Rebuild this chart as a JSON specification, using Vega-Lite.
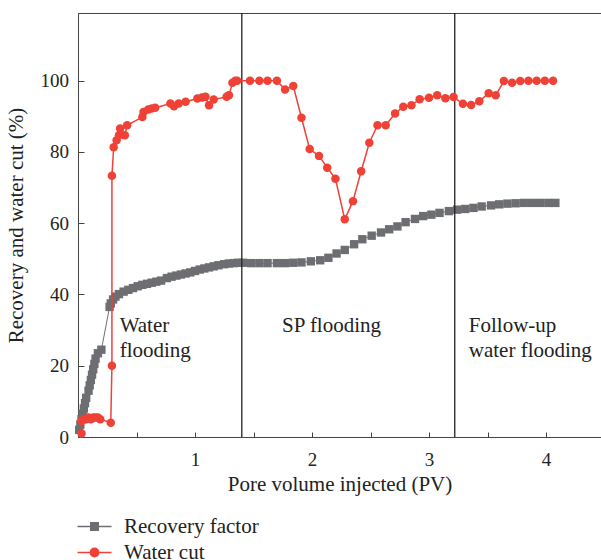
{
  "$schema": "https://vega.github.io/schema/vega-lite/v6.json",
  "width": 523,
  "height": 424,
  "autosize": {"type": "none"},
  "padding": {"left": 78, "top": 13, "right": 0, "bottom": 123},
  "background": "white",
  "config": {
    "font": "Liberation Serif",
    "view": {"stroke": "#444", "strokeWidth": 1},
    "axis": {
      "domainColor": "#444", "tickColor": "#444", "labelColor": "#222", "titleColor": "#222",
      "labelFont": "Liberation Serif", "titleFont": "Liberation Serif",
      "labelFontSize": 19, "titleFontSize": 21, "titleFontWeight": "normal",
      "grid": false, "domainWidth": 1, "tickWidth": 1
    },
    "legend": {"labelFont": "Liberation Serif", "labelFontSize": 21, "labelColor": "#222"}
  },
  "datasets": {
    "rf": [
      {"x": 0.01, "y": 2}, {"x": 0.02, "y": 3.5}, {"x": 0.03, "y": 5}, {"x": 0.04, "y": 6.5},
      {"x": 0.05, "y": 8}, {"x": 0.06, "y": 9.5}, {"x": 0.07, "y": 11}, {"x": 0.09, "y": 13},
      {"x": 0.10, "y": 14.5}, {"x": 0.11, "y": 16}, {"x": 0.12, "y": 17.5}, {"x": 0.13, "y": 19},
      {"x": 0.14, "y": 20.5}, {"x": 0.15, "y": 22}, {"x": 0.17, "y": 23.5}, {"x": 0.20, "y": 24.5},
      {"x": 0.27, "y": 36.5}, {"x": 0.28, "y": 37.5}, {"x": 0.30, "y": 38.6}, {"x": 0.32, "y": 39.4},
      {"x": 0.35, "y": 40.1}, {"x": 0.39, "y": 40.8}, {"x": 0.43, "y": 41.3}, {"x": 0.47, "y": 41.8},
      {"x": 0.51, "y": 42.3}, {"x": 0.55, "y": 42.7}, {"x": 0.59, "y": 43.0}, {"x": 0.63, "y": 43.3},
      {"x": 0.67, "y": 43.6}, {"x": 0.71, "y": 43.9}, {"x": 0.76, "y": 44.6}, {"x": 0.80, "y": 45.0},
      {"x": 0.84, "y": 45.3}, {"x": 0.88, "y": 45.6}, {"x": 0.92, "y": 45.9}, {"x": 0.96, "y": 46.2},
      {"x": 1.00, "y": 46.6}, {"x": 1.04, "y": 47.0}, {"x": 1.08, "y": 47.3}, {"x": 1.12, "y": 47.6},
      {"x": 1.16, "y": 47.9}, {"x": 1.20, "y": 48.2}, {"x": 1.25, "y": 48.5}, {"x": 1.29, "y": 48.7},
      {"x": 1.33, "y": 48.8}, {"x": 1.37, "y": 48.9}, {"x": 1.41, "y": 48.9}, {"x": 1.48, "y": 48.8},
      {"x": 1.55, "y": 48.8}, {"x": 1.62, "y": 48.8}, {"x": 1.70, "y": 48.8}, {"x": 1.77, "y": 48.8},
      {"x": 1.84, "y": 48.9}, {"x": 1.91, "y": 49.0}, {"x": 1.99, "y": 49.3}, {"x": 2.07, "y": 49.6},
      {"x": 2.14, "y": 50.3}, {"x": 2.21, "y": 51.5}, {"x": 2.28, "y": 52.5}, {"x": 2.36, "y": 54.1},
      {"x": 2.43, "y": 55.5}, {"x": 2.51, "y": 56.5}, {"x": 2.59, "y": 57.4}, {"x": 2.66, "y": 58.3},
      {"x": 2.73, "y": 59.1}, {"x": 2.80, "y": 60.3}, {"x": 2.88, "y": 61.2}, {"x": 2.95, "y": 62.0},
      {"x": 3.02, "y": 62.4}, {"x": 3.09, "y": 62.9}, {"x": 3.17, "y": 63.4}, {"x": 3.24, "y": 63.8},
      {"x": 3.31, "y": 64.0}, {"x": 3.38, "y": 64.3}, {"x": 3.45, "y": 64.7}, {"x": 3.53, "y": 65.0},
      {"x": 3.60, "y": 65.3}, {"x": 3.67, "y": 65.5}, {"x": 3.74, "y": 65.6}, {"x": 3.81, "y": 65.7},
      {"x": 3.88, "y": 65.7}, {"x": 3.95, "y": 65.7}, {"x": 4.02, "y": 65.7}, {"x": 4.08, "y": 65.7}
    ],
    "wc": [
      {"i": 1, "x": 0.03, "y": 1}, {"i": 2, "x": 0.03, "y": 4.5}, {"i": 3, "x": 0.05, "y": 5},
      {"i": 4, "x": 0.07, "y": 5}, {"i": 5, "x": 0.09, "y": 5.5}, {"i": 6, "x": 0.11, "y": 5},
      {"i": 7, "x": 0.13, "y": 5.5}, {"i": 8, "x": 0.15, "y": 5.5}, {"i": 9, "x": 0.17, "y": 5.5},
      {"i": 10, "x": 0.19, "y": 5}, {"i": 11, "x": 0.28, "y": 4}, {"i": 12, "x": 0.29, "y": 20},
      {"i": 13, "x": 0.29, "y": 73.3}, {"i": 14, "x": 0.305, "y": 81.3}, {"i": 15, "x": 0.33, "y": 83.3},
      {"i": 16, "x": 0.35, "y": 84.7}, {"i": 17, "x": 0.36, "y": 86.6}, {"i": 18, "x": 0.40, "y": 84.7},
      {"i": 19, "x": 0.42, "y": 87.5}, {"i": 20, "x": 0.55, "y": 89.8}, {"i": 21, "x": 0.56, "y": 91.2},
      {"i": 22, "x": 0.60, "y": 91.9}, {"i": 23, "x": 0.63, "y": 92.2}, {"i": 24, "x": 0.66, "y": 92.4},
      {"i": 25, "x": 0.79, "y": 93.6}, {"i": 26, "x": 0.82, "y": 92.8}, {"i": 27, "x": 0.86, "y": 93.6},
      {"i": 28, "x": 0.92, "y": 94.1}, {"i": 29, "x": 1.02, "y": 95.0}, {"i": 30, "x": 1.06, "y": 95.3},
      {"i": 31, "x": 1.09, "y": 95.5}, {"i": 32, "x": 1.12, "y": 93.1}, {"i": 33, "x": 1.16, "y": 94.7},
      {"i": 34, "x": 1.27, "y": 95.5}, {"i": 35, "x": 1.29, "y": 95.9}, {"i": 36, "x": 1.32, "y": 99.4},
      {"i": 37, "x": 1.345, "y": 100}, {"i": 38, "x": 1.36, "y": 100}, {"i": 39, "x": 1.47, "y": 100},
      {"i": 40, "x": 1.55, "y": 100}, {"i": 41, "x": 1.62, "y": 100}, {"i": 42, "x": 1.70, "y": 100},
      {"i": 43, "x": 1.77, "y": 97.5}, {"i": 44, "x": 1.84, "y": 98.5}, {"i": 45, "x": 1.91, "y": 89.6},
      {"i": 46, "x": 1.98, "y": 80.8}, {"i": 47, "x": 2.06, "y": 78.9}, {"i": 48, "x": 2.13, "y": 75.6},
      {"i": 49, "x": 2.20, "y": 72.5}, {"i": 50, "x": 2.28, "y": 61.1}, {"i": 51, "x": 2.35, "y": 66.2},
      {"i": 52, "x": 2.42, "y": 74.6}, {"i": 53, "x": 2.49, "y": 82.6}, {"i": 54, "x": 2.56, "y": 87.5},
      {"i": 55, "x": 2.63, "y": 87.5}, {"i": 56, "x": 2.71, "y": 90.8}, {"i": 57, "x": 2.78, "y": 92.7},
      {"i": 58, "x": 2.85, "y": 93.1}, {"i": 59, "x": 2.92, "y": 94.8}, {"i": 60, "x": 3.00, "y": 95.2},
      {"i": 61, "x": 3.07, "y": 95.9}, {"i": 62, "x": 3.14, "y": 95.1}, {"i": 63, "x": 3.21, "y": 95.4},
      {"i": 64, "x": 3.29, "y": 93.5}, {"i": 65, "x": 3.36, "y": 93.2}, {"i": 66, "x": 3.43, "y": 94.2},
      {"i": 67, "x": 3.51, "y": 96.5}, {"i": 68, "x": 3.57, "y": 95.9}, {"i": 69, "x": 3.64, "y": 99.9},
      {"i": 70, "x": 3.71, "y": 99.4}, {"i": 71, "x": 3.78, "y": 99.9}, {"i": 72, "x": 3.85, "y": 100},
      {"i": 73, "x": 3.92, "y": 100}, {"i": 74, "x": 3.99, "y": 100}, {"i": 75, "x": 4.06, "y": 100}
    ],
    "stages": [{"x": 1.4}, {"x": 3.22}],
    "ann": [
      {"x": 0.356, "y": 29.4, "t": "Water\nflooding"},
      {"x": 1.744, "y": 29.4, "t": "SP flooding"},
      {"x": 3.34, "y": 29.4, "t": "Follow-up\nwater flooding"}
    ],
    "leg": [{"series": "Recovery factor"}, {"series": "Water cut"}]
  },
  "layer": [
    {
      "data": {"name": "rf"},
      "mark": {"type": "line", "color": "#6d6e71", "strokeWidth": 1,
        "point": {"shape": "square", "size": 70, "filled": true, "color": "#6d6e71", "opacity": 1}},
      "encoding": {
        "x": {
          "field": "x", "type": "quantitative", "title": "Pore volume injected (PV)",
          "scale": {"domain": [0, 4.47], "nice": false, "zero": false},
          "axis": {
            "values": [0.5, 1, 1.5, 2, 2.5, 3, 3.5, 4],
            "labelExpr": "datum.value % 1 ? '' : format(datum.value, 'd')",
            "tickSize": -5,
            "labelPadding": 18,
            "titlePadding": 4
          }
        },
        "y": {
          "field": "y", "type": "quantitative", "title": "Recovery and water cut (%)",
          "scale": {"domain": [0, 119], "nice": false, "zero": false},
          "axis": {
            "values": [0, 10, 20, 30, 40, 50, 60, 70, 80, 90, 100, 110],
            "labelExpr": "datum.value % 20 ? '' : datum.label",
            "tickSize": -6,
            "labelPadding": 15.5,
            "titlePadding": 14
          }
        }
      }
    },
    {
      "data": {"name": "stages"},
      "mark": {"type": "rule", "color": "#222", "strokeWidth": 1.3},
      "encoding": {
        "x": {"field": "x", "type": "quantitative", "title": "Pore volume injected (PV)"}
      }
    },
    {
      "data": {"name": "wc"},
      "mark": {"type": "line", "color": "#ef4136", "strokeWidth": 1.5,
        "point": {"shape": "circle", "size": 72, "filled": true, "color": "#ef4136", "opacity": 1}},
      "encoding": {
        "x": {"field": "x", "type": "quantitative", "title": "Pore volume injected (PV)"},
        "y": {"field": "y", "type": "quantitative", "title": "Recovery and water cut (%)"},
        "order": {"field": "i", "type": "quantitative"}
      }
    },
    {
      "data": {"name": "ann"},
      "mark": {"type": "text", "align": "left", "baseline": "alphabetic", "fontSize": 21,
        "lineBreak": "\n", "lineHeight": 25, "font": "Liberation Serif", "color": "#222"},
      "encoding": {
        "x": {"field": "x", "type": "quantitative", "title": "Pore volume injected (PV)"},
        "y": {"field": "y", "type": "quantitative", "title": "Recovery and water cut (%)"},
        "text": {"field": "t"}
      }
    },
    {
      "data": {"name": "leg"},
      "transform": [{"filter": "false"}],
      "mark": {"type": "point", "filled": true},
      "encoding": {
        "fill": {"field": "series", "type": "nominal",
          "scale": {"domain": ["Recovery factor", "Water cut"], "range": ["#6d6e71", "#ef4136"]},
          "legend": {"title": null, "orient": "none", "legendX": 6, "legendY": 503,
            "symbolSize": 289, "symbolStrokeWidth": 1.3, "labelOffset": 19, "rowPadding": 4,
            "padding": 0, "symbolOpacity": 1, "labelFontSize": 21}},
        "stroke": {"field": "series", "type": "nominal",
          "scale": {"domain": ["Recovery factor", "Water cut"], "range": ["#6d6e71", "#ef4136"]},
          "legend": {"title": null, "orient": "none", "legendX": 6, "legendY": 503,
            "symbolSize": 289, "symbolStrokeWidth": 1.3, "labelOffset": 19, "rowPadding": 4,
            "padding": 0, "symbolOpacity": 1, "labelFontSize": 21}},
        "shape": {"field": "series", "type": "nominal",
          "scale": {"domain": ["Recovery factor", "Water cut"],
            "range": ["M-2,0H2M-0.45,-0.45H0.45V0.45H-0.45Z", "M-2,0H2M0.5,0A0.5,0.5 0 1 1 -0.5,0A0.5,0.5 0 1 1 0.5,0Z"]},
          "legend": {"title": null, "orient": "none", "legendX": 6, "legendY": 503,
            "symbolSize": 289, "symbolStrokeWidth": 1.3, "labelOffset": 19, "rowPadding": 4,
            "padding": 0, "symbolOpacity": 1, "labelFontSize": 21}}
      }
    }
  ]
}
